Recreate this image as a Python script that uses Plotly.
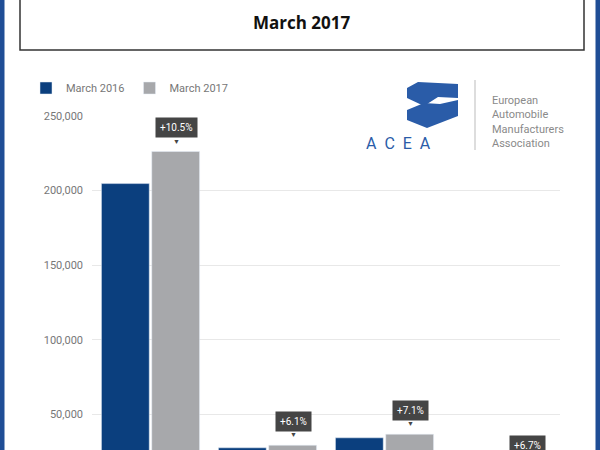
import plotly.graph_objects as go

categories = ['Group A', 'Group B', 'Group C', 'Group D']
march_2016 = [204700, 27600, 34300, 12000]
march_2017 = [226200, 29300, 36700, 12800]
changes = ['+10.5%', '+6.1%', '+7.1%', '+6.7%']

BLUE = '#0b3f7e'
GREY = '#a7a8ab'

# page geometry (plot area px 92..560 x, 116..489 y)
L, R, T, B = 92, 560, 116, 489
W, H = 600, 520
def px(x):
    return (x - L) / (R - L)
def py(y):
    return (B - y) / (B - T)

fig = go.Figure()
fig.add_trace(go.Bar(x=categories, y=march_2016, name='March 2016', marker_color=BLUE))
fig.add_trace(go.Bar(x=categories, y=march_2017, name='March 2017', marker_color=GREY))

annotations = []
for i, cat in enumerate(categories):
    annotations.append(dict(x=cat, y=march_2017[i], xref='x', yref='y', text=changes[i],
                            showarrow=False, xshift=26, yshift=24, bgcolor='#454545',
                            font=dict(color='white', size=10, family='Roboto'),
                            borderpad=4))
    annotations.append(dict(x=cat, y=march_2017[i], xref='x', yref='y', text='▼',
                            showarrow=False, xshift=26, yshift=10,
                            font=dict(color='#454545', size=7)))

annotations += [
    dict(x=px(302), y=py(22), xref='paper', yref='paper', text='<b>March 2017</b>',
         yanchor='middle', showarrow=False, font=dict(size=17, color='#111', family='Open Sans')),
    dict(x=px(433), y=py(143), xref='paper', yref='paper', text='A  C  E  A',
         yanchor='middle', showarrow=False, font=dict(size=16, color='#2a5ca8', family='Roboto')),
    dict(x=px(490), y=py(122), xref='paper', yref='paper', xanchor='left', yanchor='middle',
         text='European<br>Automobile<br>Manufacturers<br>Association', align='left',
         showarrow=False, font=dict(size=11, color='#8a8a8a', family='Roboto')),
]

shapes = [
    dict(type='rect', xref='paper', yref='paper', x0=px(2), x1=px(598), y0=py(600), y1=py(-10),
         line=dict(color='#1f4e96', width=5), layer='above'),
    dict(type='rect', xref='paper', yref='paper', x0=px(20), x1=px(584), y0=py(50), y1=py(-5),
         line=dict(color='#333', width=1.5)),
    dict(type='line', xref='paper', yref='paper', x0=px(475), x1=px(475), y0=py(80), y1=py(150),
         line=dict(color='#bbb', width=1)),
    dict(type='path', xref='paper', yref='paper', fillcolor='#2a5ca8', line=dict(width=0),
         path=f'M {px(407)},{py(88)} L {px(418)},{py(82)} L {px(458)},{py(84)} L {px(458)},{py(98)} '
              f'L {px(438)},{py(97)} L {px(424)},{py(106)} L {px(407)},{py(98)} Z'),
    dict(type='path', xref='paper', yref='paper', fillcolor='#2a5ca8', line=dict(width=0),
         path=f'M {px(407)},{py(110)} L {px(424)},{py(103)} L {px(440)},{py(104)} L {px(458)},{py(100)} '
              f'L {px(458)},{py(116)} L {px(427)},{py(128)} L {px(407)},{py(120)} Z'),
]

fig.update_layout(
    width=W, height=H,
    margin=dict(l=L, r=W - R, t=T, b=H - B),
    paper_bgcolor='white', plot_bgcolor='white',
    barmode='group', bargap=0.14, bargroupgap=0.05,
    font=dict(family='Roboto', color='#777', size=11),
    legend=dict(orientation='h', x=px(26), y=py(88), xanchor='left', yanchor='middle',
                font=dict(size=11, color='#777'), itemwidth=30),
    yaxis=dict(range=[0, 250000], tickvals=[0, 50000, 100000, 150000, 200000, 250000],
               tickformat=',', gridcolor='#e8e8e8', zeroline=False, ticklabelstandoff=8),
    xaxis=dict(showgrid=False),
    annotations=annotations,
    shapes=shapes,
    showlegend=True,
)

fig.write_html("out.html", config={'displayModeBar': False},
               post_script="document.body.style.margin='0';")
